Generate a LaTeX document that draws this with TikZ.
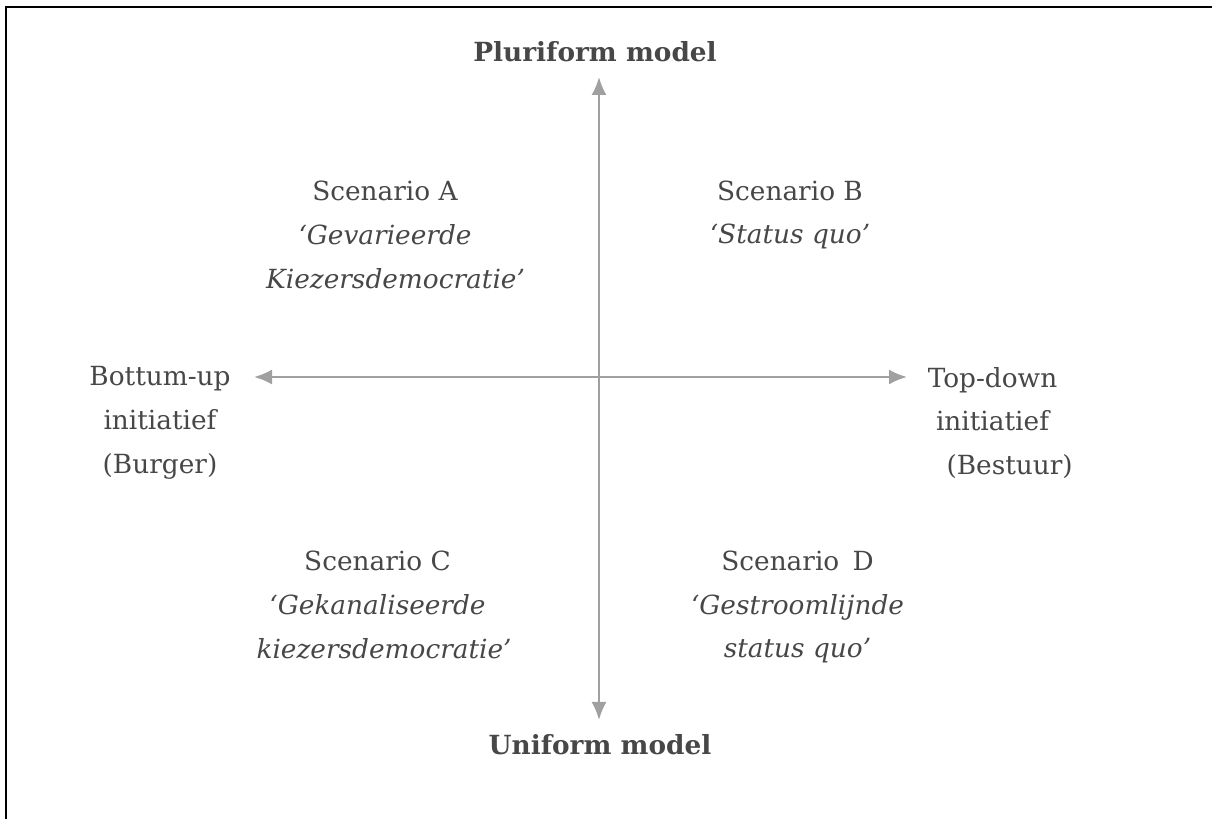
\documentclass[tikz,border=0pt]{standalone}
\usepackage{fontspec}
\setmainfont{DejaVu Serif}
\usetikzlibrary{arrows.meta}
\definecolor{txtgray}{HTML}{474747}
\definecolor{axgray}{HTML}{A0A0A0}
\newcommand{\diagfont}{\fontsize{15}{25}\selectfont}
\tikzset{
  axis/.style={draw=axgray, line width=1.3pt, {Latex[length=0.36cm,width=0.3cm]}-{Latex[length=0.36cm,width=0.3cm]}},
  pole/.style={font=\diagfont\bfseries, text=txtgray, inner sep=1pt},
  side/.style={align=center, text=txtgray, inner sep=1pt},
  scen/.style={align=center, text=txtgray, inner sep=1pt}
}
\begin{document}
\begin{tikzpicture}[font=\diagfont]
    \useasboundingbox (0,0) rectangle (24.24,-16.38);
    \coordinate (f01) at (0.12,-16.38);
    \coordinate (f02) at (0.12,-0.14);
    \coordinate (f03) at (24.24,-0.14);

    \coordinate (v01) at (11.98,-1.54);
    \coordinate (v02) at (11.98,-14.40);
    \coordinate (h01) at (5.08,-7.54);
    \coordinate (h02) at (18.14,-7.54);

    \coordinate (l01) at (11.90,-1.04);
    \coordinate (l02) at (12.00,-14.90);
    \coordinate (l03) at (3.20,-8.46);
    \coordinate (l04) at (19.85,-8.46);
    \coordinate (l05) at (7.70,-4.70);
    \coordinate (l06) at (15.80,-4.30);
    \coordinate (l07) at (7.55,-12.10);
    \coordinate (l08) at (15.95,-12.14);

    \draw[line width=1pt] (f01) -- (f02) -- (f03);

    \draw[axis] (v01) -- (v02);
    \draw[axis] (h01) -- (h02);

    \node[pole] (pluri) at (l01) {Pluriform model};
    \node[pole] (uni) at (l02) {Uniform model};
    \node[side] (bottom) at (l03) {Bottum-up\\initiatief\\(Burger)};
    \node[side] (top) at (l04) {Top-down\\initiatief\\\hspace{1.3em}(Bestuur)};

    \node[scen] (scA) at (l05) {Scenario A\\\itshape ‘Gevarieerde\\\hspace{0.8em}\itshape Kiezersdemocratie’};
    \node[scen] (scB) at (l06) {Scenario B\\\itshape ‘Status quo’};
    \node[scen] (scC) at (l07) {Scenario C\\\itshape ‘Gekanaliseerde\\\hspace{0.5em}\itshape kiezersdemocratie’};
    \node[scen] (scD) at (l08) {Scenario\enspace D\\\itshape ‘Gestroomlijnde\\\itshape status quo’};

\end{tikzpicture}
\end{document}
